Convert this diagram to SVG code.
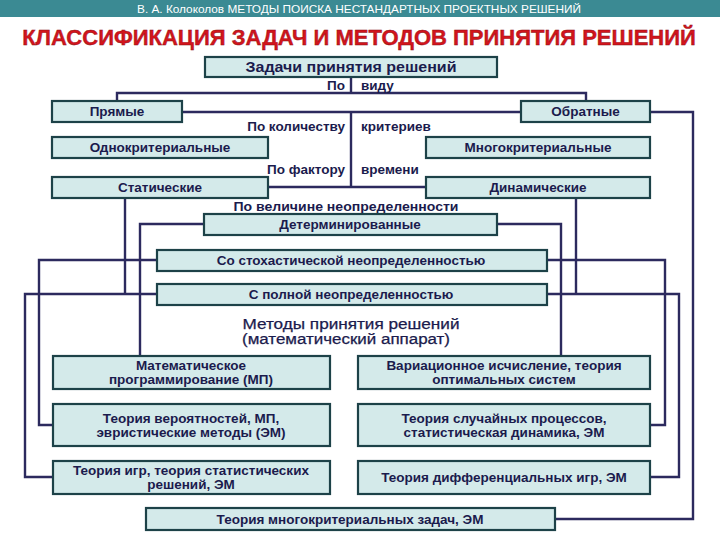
<svg xmlns="http://www.w3.org/2000/svg" width="720" height="540" viewBox="0 0 720 540">
<style>
.bx{fill:#d4eaea;stroke:#1d4248;stroke-width:2.2}
.t{font-family:"Liberation Sans",Arial,sans-serif;font-weight:bold;font-size:13.5px;fill:#1b1b4d;text-anchor:middle}
.l{font-family:"Liberation Sans",Arial,sans-serif;font-weight:bold;font-size:13.5px;fill:#1b1b4d}
.m{font-family:"Liberation Sans",Arial,sans-serif;font-size:14px;fill:#1b1b4d;text-anchor:middle;stroke:#1b1b4d;stroke-width:0.25}
.c{fill:none;stroke:#2c2a5e;stroke-width:2.4}
</style>
<rect x="0" y="0" width="720" height="17" fill="#3b8a93"/>
<text x="359" y="13" font-family="'Liberation Sans',Arial,sans-serif" font-size="10.5" fill="#ffffff" text-anchor="middle" textLength="444" lengthAdjust="spacingAndGlyphs">В. А. Колоколов  МЕТОДЫ  ПОИСКА  НЕСТАНДАРТНЫХ  ПРОЕКТНЫХ  РЕШЕНИЙ</text>
<text x="359" y="45" font-family="'Liberation Sans',Arial,sans-serif" font-weight="bold" font-size="22" fill="#d3141c" stroke="#8a0d12" stroke-width="0.4" text-anchor="middle">КЛАССИФИКАЦИЯ ЗАДАЧ И МЕТОДОВ ПРИНЯТИЯ РЕШЕНИЙ</text>

<g id="connectors">
<path class="c" d="M351,77 V93"/>
<path class="c" d="M117,101 V93 H586 V101"/>
<path class="c" d="M182,112 H521"/>
<path class="c" d="M351,112 V187"/>
<path class="c" d="M268,187 H426"/>
<path class="c" d="M650,112 H693 V519 H555"/>
<path class="c" d="M204,224 H140 V356"/>
<path class="c" d="M497,224 H561 V356"/>
<path class="c" d="M157,260 H39 V425 H53"/>
<path class="c" d="M547,260 H665 V425 H650"/>
<path class="c" d="M157,294 H25 V477 H53"/>
<path class="c" d="M547,294 H679 V477 H650"/>
<path class="c" d="M125,198 V294"/>
<path class="c" d="M576,198 V294"/>
</g>

<g id="labels">
<text class="l" x="345" y="90" text-anchor="end">По</text>
<text class="l" x="361" y="90">виду</text>
<text class="l" x="345" y="131" text-anchor="end">По количеству</text>
<text class="l" x="361" y="131">критериев</text>
<text class="l" x="345" y="174" text-anchor="end">По фактору</text>
<text class="l" x="361" y="174">времени</text>
<text class="t" x="346" y="211" textLength="225" lengthAdjust="spacingAndGlyphs">По величине неопределенности</text>
<text class="m" x="351" y="329" textLength="217" lengthAdjust="spacingAndGlyphs">Методы принятия решений</text>
<text class="m" x="346" y="344" textLength="208" lengthAdjust="spacingAndGlyphs">(математический аппарат)</text>
</g>

<g id="n-zadachi"><rect class="bx" x="205" y="57" width="292" height="20"/><text class="t" x="351" y="72" style="font-size:14px" textLength="211" lengthAdjust="spacingAndGlyphs">Задачи принятия решений</text></g>
<g id="n-pryamye"><rect class="bx" x="52" y="101" width="130" height="21"/><text class="t" x="117" y="116">Прямые</text></g>
<g id="n-obratnye"><rect class="bx" x="521" y="101" width="129" height="21"/><text class="t" x="585.5" y="116">Обратные</text></g>
<g id="n-odnokrit"><rect class="bx" x="52" y="137" width="216" height="21"/><text class="t" x="160" y="152">Однокритериальные</text></g>
<g id="n-mnogokrit"><rect class="bx" x="426" y="137" width="224" height="21"/><text class="t" x="538" y="152">Многокритериальные</text></g>
<g id="n-statich"><rect class="bx" x="52" y="177" width="216" height="21"/><text class="t" x="160" y="192">Статические</text></g>
<g id="n-dinamich"><rect class="bx" x="426" y="177" width="224" height="21"/><text class="t" x="538" y="192">Динамические</text></g>
<g id="n-determ"><rect class="bx" x="204" y="214" width="293" height="21"/><text class="t" x="350" y="229">Детерминированные</text></g>
<g id="n-stoh"><rect class="bx" x="157" y="250" width="390" height="21"/><text class="t" x="351" y="265">Со стохастической неопределенностью</text></g>
<g id="n-poln"><rect class="bx" x="157" y="284" width="390" height="21"/><text class="t" x="351" y="299">С полной неопределенностью</text></g>
<g id="n-matprog"><rect class="bx" x="53" y="356" width="277" height="33"/><text class="t" x="191" y="370">Математическое</text><text class="t" x="191" y="384">программирование (МП)</text></g>
<g id="n-variac"><rect class="bx" x="358" y="356" width="292" height="33"/><text class="t" x="504" y="370">Вариационное исчисление, теория</text><text class="t" x="504" y="384">оптимальных систем</text></g>
<g id="n-veroyat"><rect class="bx" x="53" y="404" width="277" height="42"/><text class="t" x="191" y="423">Теория вероятностей, МП,</text><text class="t" x="191" y="437">эвристические методы (ЭМ)</text></g>
<g id="n-sluch"><rect class="bx" x="358" y="404" width="292" height="42"/><text class="t" x="504" y="423">Теория случайных процессов,</text><text class="t" x="504" y="437">статистическая динамика, ЭМ</text></g>
<g id="n-igr"><rect class="bx" x="53" y="461" width="277" height="33"/><text class="t" x="191" y="475">Теория игр, теория статистических</text><text class="t" x="191" y="489">решений, ЭМ</text></g>
<g id="n-difigr"><rect class="bx" x="358" y="461" width="292" height="33"/><text class="t" x="504" y="482">Теория дифференциальных игр, ЭМ</text></g>
<g id="n-mnogozad"><rect class="bx" x="146" y="508" width="409" height="22"/><text class="t" x="350" y="524">Теория многокритериальных задач, ЭМ</text></g>
</svg>
